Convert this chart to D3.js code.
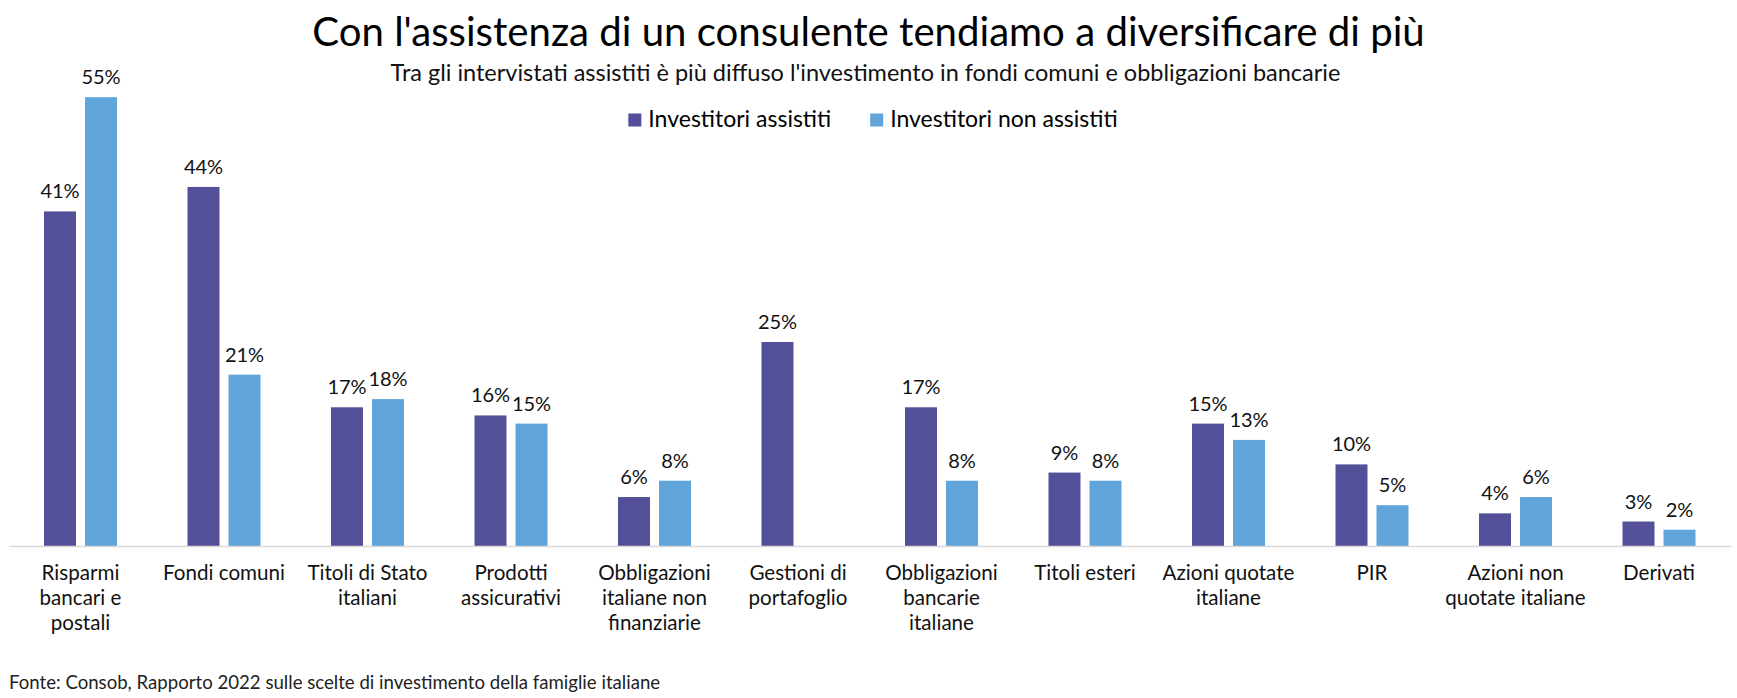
<!DOCTYPE html>
<html>
<head>
<meta charset="utf-8">
<script src="https://cdn.jsdelivr.net/npm/d3@7"></script>
<style>
  body { margin: 0; background: #fff; }
  text { font-family: Lato, "Noto Sans", sans-serif; }
</style>
</head>
<body>
<svg id="chart" width="1737" height="698"></svg>
<script>
// dati (percentuali)
const categories = [
    "Risparmi\nbancari e\npostali",
    "Fondi comuni",
    "Titoli di Stato\nitaliani",
    "Prodotti\nassicurativi",
    "Obbligazioni\nitaliane non\nfinanziarie",
    "Gestioni di\nportafoglio",
    "Obbligazioni\nbancarie\nitaliane",
    "Titoli esteri",
    "Azioni quotate\nitaliane",
    "PIR",
    "Azioni non\nquotate italiane",
    "Derivati"
];
const assistiti    = [41, 44, 17, 16, 6, 25, 17, 9, 15, 10, 4, 3];
const nonAssistiti = [55, 21, 18, 15, 8, null, 8, 8, 13, 5, 6, 2];
const seriesNames  = ["Investitori assistiti", "Investitori non assistiti"];
const seriesColors = ["#544F99", "#5FA5DA"];
const yTicks = [0, 10, 20, 30, 40, 50, 60];

const titleText = "Con l'assistenza di un consulente tendiamo a diversificare di più";
const subtitleText = "Tra gli intervistati assistiti è più diffuso l'investimento in fondi comuni e obbligazioni bancarie";
const sourceText = "Fonte: Consob, Rapporto 2022 sulle scelte di investimento della famiglie italiane";

const width = 1737;
const height = 698;
const svg = d3.select('#chart');

// adatta la dimensione del font ad una larghezza data
function fitWidth(sel, target) {
    const w = sel.node().getComputedTextLength();
    const fs = parseFloat(sel.attr('font-size'));
    sel.attr('font-size', (fs * target / w).toFixed(2));
}

// Titolo e sottotitolo
const title = svg.append('text')
    .attr('x', width / 2).attr('y', 46)
    .attr('text-anchor', 'middle')
    .attr('font-size', 38)
    .attr('fill', '#000')
    .text(titleText);
fitWidth(title, 1113);

const subtitle = svg.append('text')
    .attr('x', width / 2 - 3).attr('y', 81)
    .attr('text-anchor', 'middle')
    .attr('font-size', 22)
    .attr('fill', '#111')
    .text(subtitleText);
fitWidth(subtitle, 950);

// Scale
const x0 = d3.scaleBand()
    .domain(categories)
    .range([8.75, 1730.75])
    .padding(0);

const x1 = d3.scaleBand()
    .domain(seriesNames)
    .range([-36.5, 36.5])
    .paddingInner(0.22);

const y = d3.scaleLinear()
    .domain([0, d3.max(yTicks)])
    .range([546, 56.4]);

// dati in formato piatto per le barre
const rows = [];
categories.forEach((c, i) => {
    rows.push({ cat: c, serie: seriesNames[0], value: assistiti[i], color: seriesColors[0] });
    rows.push({ cat: c, serie: seriesNames[1], value: nonAssistiti[i], color: seriesColors[1] });
});
const bars = rows.filter(d => d.value != null);

const g = svg.append('g');

g.selectAll('.bar')
    .data(bars)
    .enter().append('rect')
    .attr('class', 'bar')
    .attr('x', d => x0(d.cat) + x0.bandwidth() / 2 + x1(d.serie))
    .attr('y', d => y(d.value))
    .attr('width', x1.bandwidth())
    .attr('height', d => y(0) - y(d.value))
    .attr('fill', d => d.color);

// etichette valori
g.selectAll('.val')
    .data(bars)
    .enter().append('text')
    .attr('class', 'val')
    .attr('x', d => x0(d.cat) + x0.bandwidth() / 2 + x1(d.serie) + x1.bandwidth() / 2)
    .attr('y', d => y(d.value) - 13)
    .attr('text-anchor', 'middle')
    .attr('font-size', 20)
    .attr('fill', '#111')
    .text(d => d.value + '%');

// asse x
const xAxis = g.append('g')
    .attr('transform', `translate(0,${y(0)})`)
    .call(d3.axisBottom(x0).tickSize(0).tickFormat(''));
xAxis.select('.domain').attr('stroke', '#d9d9d9').attr('stroke-width', 1.5);

// etichette categorie su più righe
const catLabels = g.selectAll('.cat')
    .data(categories)
    .enter().append('text')
    .attr('class', 'cat')
    .attr('text-anchor', 'middle')
    .attr('font-size', 20.6)
    .attr('fill', '#111')
    .attr('transform', d => `translate(${x0(d) + x0.bandwidth() / 2},580)`);
catLabels.selectAll('tspan')
    .data(d => d.split('\n'))
    .enter().append('tspan')
    .attr('x', 0)
    .attr('y', (d, i) => i * 25)
    .text(d => d);

// Legenda centrata
const legend = svg.append('g');
const items = legend.selectAll('.leg')
    .data(seriesNames)
    .enter().append('g')
    .attr('class', 'leg');
items.append('rect')
    .attr('width', 13).attr('height', 13)
    .attr('y', 113.5)
    .attr('fill', (d, i) => seriesColors[i]);
items.append('text')
    .attr('x', 20).attr('y', 127)
    .attr('font-size', 23)
    .attr('fill', '#000')
    .text(d => d);
let lx = 0;
const offsets = [];
items.each(function() {
    offsets.push(lx);
    lx += 20 + d3.select(this).select('text').node().getComputedTextLength() + 39;
});
const legendWidth = lx - 39;
items.attr('transform', (d, i) => `translate(${873 - legendWidth / 2 + offsets[i]},0)`);

// Fonte
const source = svg.append('text')
    .attr('x', 9).attr('y', 689)
    .attr('font-size', 18)
    .attr('fill', '#222')
    .text(sourceText);
fitWidth(source, 651);
</script>
</body>
</html>
